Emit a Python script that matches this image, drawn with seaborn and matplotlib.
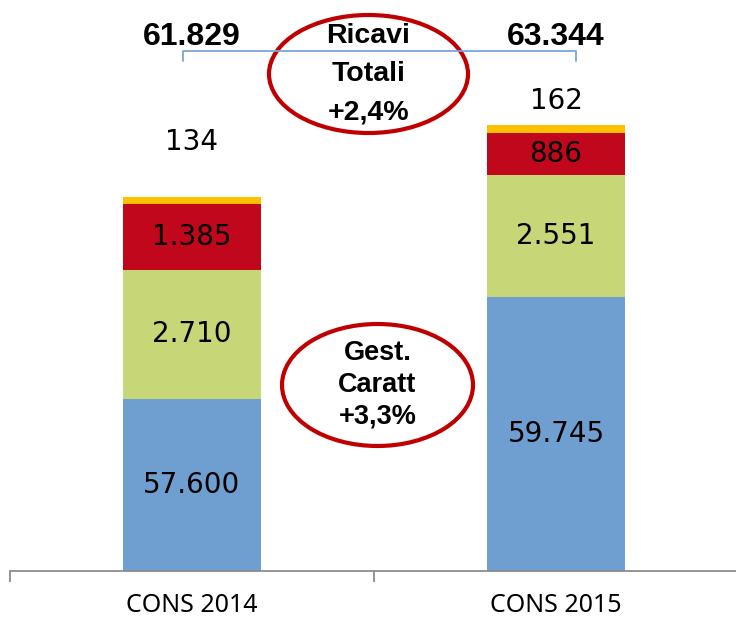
import numpy as np
import pandas as pd
import matplotlib
matplotlib.use("Agg")
import matplotlib.pyplot as plt
from matplotlib.patches import Ellipse
from matplotlib.lines import Line2D
from matplotlib.transforms import blended_transform_factory
import seaborn as sns

## Data
years = ["CONS 2014", "CONS 2015"]
gest_caratt = [57600, 59745]
seg_green = [2710, 2551]
seg_red = [1385, 886]
seg_yellow = [134, 162]
totals = [61829, 63344]
total_labels = ["61.829", "63.344"]
ricavi_text = "Ricavi\nTotali\n+2,4%"
gest_text = "Gest.\nCaratt\n+3,3%"

colors = ["#6F9FD0", "#C7D777", "#C1071C", "#FFC000"]
y_min, y_max = 54000, 65960

W, H = 736, 618


def px(x, y):
    # pixel position -> figure fraction
    return x / W, 1 - y / H


def fmt(v):
    return f"{v:,}".replace(",", ".")


sns.set_style("white")
plt.rcParams["font.family"] = ["DejaVu Sans"]
plt.rcParams["text.color"] = "black"
plt.rcParams["xtick.color"] = "black"
plt.rcParams["xtick.bottom"] = True

fig = plt.figure(figsize=(W / 100, H / 100), dpi=100)
ax = fig.add_axes([10 / W, 47 / H, 728 / W, 571 / H])

segments = [gest_caratt, seg_green, seg_red, seg_yellow]
cum = np.cumsum(np.array(segments), axis=0)

# draw cumulative bars from tallest to shortest so they stack
for i in range(len(segments) - 1, -1, -1):
    df = pd.DataFrame({"year": years, "value": cum[i]})
    sns.barplot(data=df, x="year", y="value", color=colors[i], width=0.38,
                saturation=1, edgecolor="none", ax=ax)

ax.set_xlim(-0.5, 1.5)
ax.set_ylim(y_min, y_max)

# segment labels inside bars
for j in range(len(years)):
    for i in range(3):
        bot = y_min if i == 0 else cum[i - 1][j]
        top = cum[i][j]
        ax.text(j, (max(bot, y_min) + top) / 2, fmt(segments[i][j]),
                ha="center", va="center", fontsize=20, color="black")

# small yellow segment labels above the bars
ax.annotate(fmt(seg_yellow[0]), (0, totals[0]), xytext=(0, 40), textcoords="offset points",
            ha="center", va="center", fontsize=20)
ax.annotate(fmt(seg_yellow[1]), (1, totals[1]), xytext=(0, 17), textcoords="offset points",
            ha="center", va="center", fontsize=20)

# axes styling
for s in ["left", "top", "right"]:
    ax.spines[s].set_visible(False)
ax.spines["bottom"].set_color("#8C8C8C")
ax.spines["bottom"].set_linewidth(1.3)
ax.set_yticks([])
ax.set_xticks([-0.5, 0.5, 1.5])
ax.set_xticklabels([])
ax.set_xticks([0, 1], minor=True)
ax.set_xticklabels(years, minor=True, fontsize=18, family="Noto Sans")
ax.tick_params(axis="x", which="major", bottom=True, length=8, width=1.3,
               color="#8C8C8C", direction="out")
ax.tick_params(axis="x", which="minor", bottom=True, length=0, pad=16, labelcolor="black")
ax.set_xlabel("")
ax.set_ylabel("")

# totals on top
tr = blended_transform_factory(ax.transData, fig.transFigure)
for j in range(len(years)):
    ax.text(j, px(0, 37)[1], total_labels[j], transform=tr, ha="center", va="center",
            fontsize=23, fontweight="bold", family="Liberation Sans", clip_on=False)

# bracket linking the totals
bx = [px(183, 61), px(183, 51), px(576, 51), px(576, 61)]
fig.add_artist(Line2D([p[0] for p in bx], [p[1] for p in bx], transform=fig.transFigure,
                      color="#7AA6D6", lw=1.3))

# ellipses with growth notes
def oval(cx, cy, w, h, text, size, spacing):
    c = px(cx, cy)
    fig.add_artist(Ellipse(c, w / W, h / H, transform=fig.transFigure,
                           facecolor="white", edgecolor="#C00000", lw=3))
    fig.text(c[0], c[1], text, ha="center", va="center", fontsize=size,
             fontweight="bold", family="Liberation Sans", linespacing=spacing)

oval(368.5, 74, 199, 118, ricavi_text, 20.5, 1.6)
oval(377.5, 385, 191, 122, gest_text, 19.5, 1.3)

fig.savefig("out.png", dpi=100)
